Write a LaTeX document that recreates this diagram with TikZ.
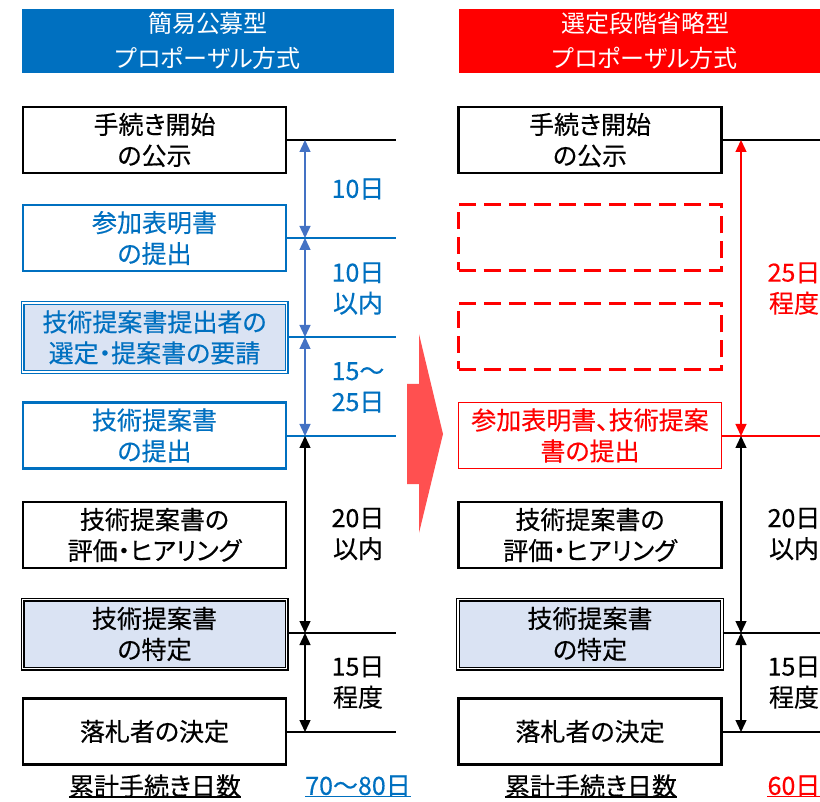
\documentclass[tikz,border=0pt]{standalone}
\usepackage{fontspec}
\newfontfamily\jp[RawFeature=+palt,FakeBold=0.35]{Noto Sans CJK JP}
\newfontfamily\jph[RawFeature=+palt]{Noto Sans CJK JP}
\usetikzlibrary{arrows.meta}
\definecolor{hblue}{HTML}{0070C0}
\definecolor{ablue}{HTML}{4472C4}
\definecolor{lblue}{HTML}{DAE3F3}
\definecolor{hred}{HTML}{FF0000}
\definecolor{bigred}{HTML}{FF5050}
\begin{document}
\begin{tikzpicture}[x=1pt,y=-1pt,
  every node/.style={font=\jp\fontsize{25}{31}\selectfont, align=center, inner sep=0pt},
  box/.style={draw=black, line width=2.5pt, minimum width=263pt, minimum height=66pt, fill=white},
  bluebox/.style={box, draw=hblue, text=hblue},
  dbox/.style={box, fill=lblue, double=white, line width=1.3pt, double distance=1.4pt, minimum height=69pt},
  redbox/.style={box, draw=hred, text=hred, line width=1.8pt},
  dashbox/.style={box, draw=hred, line width=3.2pt, dash pattern=on 17pt off 8pt, minimum height=66pt},
  header/.style={minimum width=372pt, minimum height=64pt, text=white, font=\jph\fontsize{24}{35}\selectfont},
  hline/.style={line width=2pt},
  uline/.style={line width=1.3pt},
  tipA/.style={{Triangle[width=11pt,length=12pt]}-{Triangle[width=11pt,length=12pt]}},
  dimarrow/.style={tipA, line width=1.4pt},
]
\useasboundingbox (0,0) rectangle (820,802);

% headers
\node[header, fill=hblue] (h1) at (208,41) {簡易公募型\\プロポーザル方式};
\node[header, fill=hred] (h2) at (645,41) {選定段階省略型\\プロポーザル方式};

% big arrow
\fill[bigred] (407,384) -- (419,384) -- (419,334) -- (443,434) -- (419,533) -- (419,484) -- (407,484) -- cycle;

% ---------- left column ----------
\node[box] (L1) at (154.5,140) {手続き開始\\の公示};
\node[bluebox] (L2) at (154.5,238) {参加表明書\\の提出};
\node[dbox, draw=hblue, text=hblue, minimum width=264pt] (L3) at (154.5,337.5) {技術提案書提出者の\\選定・提案書の要請};
\node[bluebox] (L4) at (154.5,435.5) {技術提案書\\の提出};
\node[box] (L5) at (154.5,535) {技術提案書の\\評価・ヒアリング};
\node[dbox, minimum width=264pt] (L6) at (154.5,634) {技術提案書\\の特定};
\node[box] (L7) at (154.5,731.5) {落札者の決定};

\coordinate (Le1) at (396,140);
\coordinate (Le2) at (396,238);
\coordinate (Le3) at (396,337);
\coordinate (Le4) at (396,436);
\coordinate (Le6) at (396,633);
\coordinate (Le7) at (396,732);
\draw[hline] (L1.east |- Le1) -- (Le1);
\draw[hline, hblue] (L2.east |- Le2) -- (Le2);
\draw[hline, hblue] (L3.east |- Le3) -- (Le3);
\draw[hline, hblue] (L4.east |- Le4) -- (Le4);
\draw[hline] (L6.east |- Le6) -- (Le6);
\draw[hline] (L7.east |- Le7) -- (Le7);

\coordinate (La1) at (305,140);
\coordinate (La2) at (305,238);
\coordinate (La3) at (305,337);
\coordinate (La4) at (305,436);
\coordinate (La6) at (305,633);
\coordinate (La7) at (305,732);
\draw[dimarrow, ablue] (La1) -- (La2);
\draw[dimarrow, ablue] (La2) -- (La3);
\draw[dimarrow, ablue] (La3) -- (La4);
\draw[dimarrow] (La4) -- (La6);
\draw[dimarrow] (La6) -- (La7);

\node[text=hblue] (Lt1) at (358,189) {10日};
\node[text=hblue] (Lt2) at (358,288.5) {10日\\以内};
\node[text=hblue] (Lt3) at (358,387.5) {15～\\25日};
\node (Lt4) at (358,534) {20日\\以内};
\node (Lt5) at (358,682.5) {15日\\程度};

\node (Ls) at (155,786) {累計手続き日数};
\draw[uline] ([yshift=-1.5pt]Ls.base west) -- ([yshift=-1.5pt]Ls.base east);
\node[text=hblue] (Lsum) at (358,786) {70～80日};
\draw[uline, hblue] ([yshift=-1.5pt]Lsum.base west) -- ([yshift=-1.5pt]Lsum.base east);

% ---------- right column ----------
\node[box] (R1) at (590,140) {手続き開始\\の公示};
\node[dashbox] (R2) at (590,237.5) {};
\node[dashbox] (R3) at (590,336.5) {};
\node[redbox] (R4) at (590,435.5) {参加表明書、技術提案\\書の提出};
\node[box] (R5) at (590,535) {技術提案書の\\評価・ヒアリング};
\node[dbox, minimum width=264pt] (R6) at (590,634) {技術提案書\\の特定};
\node[box] (R7) at (590,731.5) {落札者の決定};

\coordinate (Re1) at (830,140);
\coordinate (Re4) at (830,436);
\coordinate (Re6) at (830,633);
\coordinate (Re7) at (830,732);
\draw[hline] (R1.east |- Re1) -- (Re1);
\draw[hline, hred] (R4.east |- Re4) -- (Re4);
\draw[hline] (R6.east |- Re6) -- (Re6);
\draw[hline] (R7.east |- Re7) -- (Re7);

\coordinate (Ra1) at (741,140);
\coordinate (Ra4) at (741,436);
\coordinate (Ra6) at (741,633);
\coordinate (Ra7) at (741,732);
\draw[dimarrow, hred] (Ra1) -- (Ra4);
\draw[dimarrow] (Ra4) -- (Ra6);
\draw[dimarrow] (Ra6) -- (Ra7);

\node[text=hred] (Rt1) at (794,288.5) {25日\\程度};
\node (Rt4) at (794,534) {20日\\以内};
\node (Rt5) at (794,682.5) {15日\\程度};

\node (Rs) at (591,786) {累計手続き日数};
\draw[uline] ([yshift=-1.5pt]Rs.base west) -- ([yshift=-1.5pt]Rs.base east);
\node[text=hred] (Rsum) at (794,786) {60日};
\draw[uline, hred] ([yshift=-1.5pt]Rsum.base west) -- ([yshift=-1.5pt]Rsum.base east);
\end{tikzpicture}
\end{document}
